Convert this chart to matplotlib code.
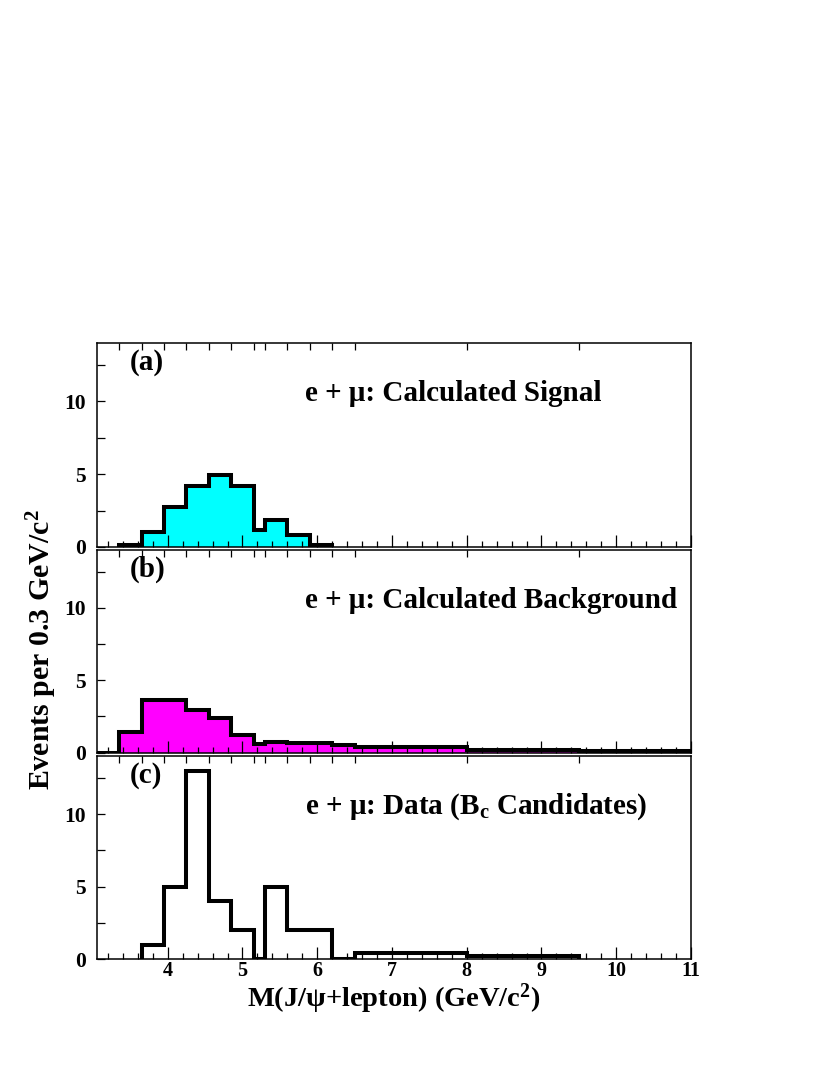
import matplotlib
matplotlib.use("Agg")
import matplotlib.pyplot as plt
import numpy as np
from matplotlib.ticker import MultipleLocator, FixedLocator

plt.rcParams['font.family'] = ['Liberation Serif', 'DejaVu Serif']
plt.rcParams['font.weight'] = 'bold'
plt.rcParams['mathtext.fontset'] = 'custom'
plt.rcParams['mathtext.rm'] = 'Liberation Serif:bold'
plt.rcParams['mathtext.bf'] = 'Liberation Serif:bold'
plt.rcParams['mathtext.it'] = 'Liberation Serif:bold:italic'

# bin edges (GeV/c^2)
edges = [3.05, 3.35, 3.65, 3.95, 4.25, 4.55, 4.85, 5.15, 5.3, 5.6, 5.9, 6.2, 6.5, 8.0, 9.5, 11.0]
# events per 0.3 GeV/c^2
signal = [0.0, 0.12, 1.0, 2.75, 4.2, 4.93, 4.18, 1.2, 1.84, 0.85, 0.15, 0.0, 0.0, 0.0, 0.0]
background = [0.0, 1.4, 3.6, 3.65, 2.95, 2.37, 1.2, 0.59, 0.75, 0.68, 0.66, 0.52, 0.38, 0.15, 0.07]
data = [0.0, 0.0, 1.0, 5.0, 13.0, 4.0, 2.0, 0.0, 5.0, 2.0, 2.0, 0.0, 0.4, 0.2, 0.0]

labels = ["(a)", "(b)", "(c)"]
titles = [r"e + μ: Calculated Signal",
          r"e + μ: Calculated Background",
          r"e + μ: Data (B$_{\mathbf{c}}$ Candidates)"]
xticks = [4, 5, 6, 7, 8, 9, 10, 11]
yticks = [0, 5, 10]

fig = plt.figure(figsize=(8.3, 10.75), dpi=100)
W, H = 830.0, 1075.0
left = 96.7 / W
width = (691.0 - 96.7) / W
panels = [(343.0, 547.0), (550.0, 752.5), (756.0, 959.3)]

e = np.array(edges)
series = [
    (np.array(signal), 1, 11, '#00FFFF'),
    (np.array(background), 0, 15, '#FF00FF'),
    (np.array(data), 2, 14, None),
]

axes = []
for i, ((top, bot), (vals, i0, i1, col)) in enumerate(zip(panels, series)):
    ax = fig.add_axes([left, 1 - bot / H, width, (bot - top) / H])
    axes.append(ax)
    v = vals[i0:i1]
    ee = e[i0:i1 + 1]
    if col is not None:
        ax.stairs(v, ee, fill=True, color=col, zorder=1)
    ax.stairs(v, ee, color='black', lw=2.9, baseline=0, zorder=2)
    ax.set_xlim(3.05, 11.0)
    ax.set_ylim(0, 14.0)
    ax.xaxis.set_major_locator(FixedLocator(xticks))
    ax.xaxis.set_minor_locator(MultipleLocator(0.2))
    ax.yaxis.set_major_locator(FixedLocator(yticks))
    ax.yaxis.set_minor_locator(MultipleLocator(2.5))
    ax.tick_params(axis='x', which='major', direction='in', length=9, width=0.9,
                   top=False, bottom=True, labelsize=14.5, pad=1.5)
    ax.tick_params(axis='x', which='minor', direction='in', length=4.5, width=0.9,
                   top=False, bottom=True)
    ax.tick_params(axis='y', which='both', direction='in', length=6, width=0.9,
                   left=True, right=False, labelsize=15.5, pad=8)
    # top ticks at bin edges
    sec = ax.secondary_xaxis('top')
    sec.set_xticks(edges[1:-1])
    sec.tick_params(direction='in', length=5, width=0.9, labeltop=False)
    sec.spines['top'].set_visible(False)
    for s in ax.spines.values():
        s.set_linewidth(1.1)
    if i < 2:
        ax.tick_params(axis='x', labelbottom=False)
    for lab in ax.get_xticklabels() + ax.get_yticklabels():
        lab.set_fontweight('bold')
    ax.text(0.056, 0.905, labels[i], transform=ax.transAxes, fontsize=21,
            fontweight='bold', va='center', ha='left')
    ax.text(0.351, 0.752, titles[i], transform=ax.transAxes, fontsize=21,
            fontweight='bold', va='center', ha='left')

fig.text(42 / W, 1 - 650 / H, r"Events per 0.3 GeV/c$^{\mathbf{2}}$", rotation=90,
         fontsize=21.5, fontweight='bold', ha='center', va='center')
fig.text(394 / W, 1 - 1007 / H, r"M(J/ψ+lepton) (GeV/c$^{\mathbf{2}}$)",
         fontsize=20.5, fontweight='bold', ha='center', va='baseline')

fig.savefig("out.png", dpi=100)
